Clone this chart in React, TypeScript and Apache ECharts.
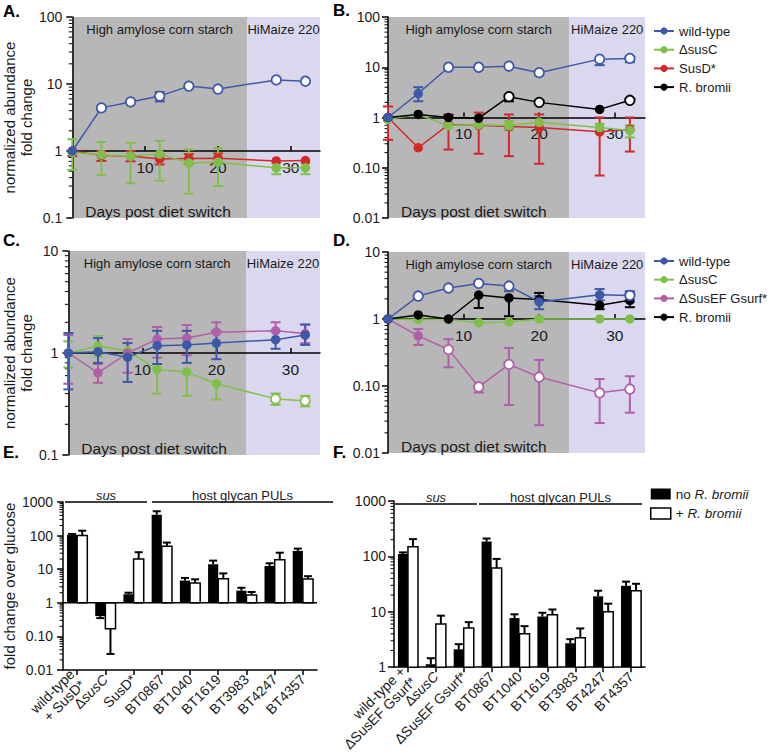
import React, { useEffect, useRef } from 'react';
import * as echarts from 'echarts';

const FONT = '"Liberation Sans", Arial, Helvetica, sans-serif';
const TXT = '#1a1a1a';
const C_BLUE = '#3b59a8';
const C_GREEN = '#80c04a';
const C_RED = '#d4282b';
const C_MAG = '#b15fa9';
const C_BLACK = '#000000';
const PHASE_COLORS = ['#b7b7b7', '#d9d8ee'];

// ---------- shared time axis ----------
const DAYS = [0, 4, 8, 12, 16, 20, 28, 32];
const DAY_TICKS = [10, 20, 30];
const PHASE_START = [0, 24];
const PHASE_END = [24, 34];
const PHASE_LABELS = ['High amylose corn starch', 'HiMaize 220'];
const X_LABEL = 'Days post diet switch';

// ---------- Panel A ----------
const A_WT = [1, 4.4, 5.4, 6.6, 9.3, 8.4, 11.5, 11];
const A_WT_OPEN = [0, 1, 1, 1, 1, 1, 1, 1];
const A_WT_LO = [null, null, null, 5.5, null, null, null, null];
const A_WT_HI = [null, null, null, 7.6, null, null, null, null];
const A_SUSC = [0.95, 0.88, 0.84, 0.9, 0.66, 0.68, 0.56, 0.56];
const A_SUSC_LO = [0.52, 0.44, 0.33, 0.36, 0.23, 0.3, 0.45, 0.45];
const A_SUSC_HI = [1.5, 1.36, 1.32, 1.42, 1.05, 1.1, 0.66, 0.66];
const A_SUSD = [1, 0.86, 0.84, 0.76, 0.77, 0.78, 0.71, 0.72];
const A_SUSD_LO = [0.84, 0.71, 0.7, 0.63, 0.64, 0.66, null, null];
const A_SUSD_HI = [1.0, 1.0, 1.0, 0.86, 0.9, 0.92, null, null];

// ---------- Panel B ----------
const B_WT = [1, 3.0, 10, 10, 10.5, 7.8, 14.5, 15];
const B_WT_OPEN = [0, 0, 1, 1, 1, 1, 1, 1];
const B_WT_LO = [0.87, 2.1, null, null, null, null, 11, 12.6];
const B_WT_HI = [null, 4.0, null, null, null, null, null, null];
const B_SUSC = [0.92, 1.15, 0.69, 0.72, 0.69, 0.8, 0.63, 0.55];
const B_SUSC_LO = [null, null, null, null, 0.56, null, 0.5, 0.4];
const B_SUSC_HI = [null, null, null, null, 0.85, null, 0.75, 0.7];
const B_SUSD = [1, 0.25, 0.72, 0.7, 0.66, 0.63, 0.52, 0.58];
const B_SUSD_LO = [0.36, null, 0.23, 0.19, 0.17, 0.12, 0.07, 0.21];
const B_SUSD_HI = [1.66, null, 1.15, 1.25, 1.15, 1.15, 1.0, 1.0];
const B_RB = [1, 1.15, 1.0, 0.97, 2.6, 2.0, 1.45, 2.2];
const B_RB_OPEN = [0, 0, 0, 0, 1, 1, 0, 1];
const B_RB_LO = [null, null, null, null, 2.1, null, null, null];
const B_RB_HI = [null, null, 1.1, null, null, null, null, null];

// ---------- Panel C ----------
const C_WT = [1, 1.03, 0.91, 1.18, 1.2, 1.25, 1.35, 1.5];
const C_WT_LO = [0.44, 0.8, 0.52, 0.78, 0.8, 0.87, 1.1, 1.2];
const C_WT_HI = [1.57, 1.4, 1.25, 1.65, 1.65, 1.65, 1.65, 1.9];
const C_SUSC = [1, 1.17, 1.05, 0.69, 0.65, 0.5, 0.355, 0.34];
const C_SUSC_OPEN = [0, 0, 0, 0, 0, 0, 1, 1];
const C_SUSC_LO = [0.72, 0.92, null, 0.4, 0.38, 0.35, 0.31, 0.3];
const C_SUSC_HI = [1.3, 1.47, null, null, null, null, 0.4, 0.38];
const C_SUSEF = [1, 0.64, 1.0, 1.37, 1.4, 1.6, 1.65, 1.55];
const C_SUSEF_LO = [0.5, 0.51, 0.64, 0.9, 0.95, 1.25, 1.35, 1.25];
const C_SUSEF_HI = [1.5, 0.78, 1.37, 1.8, 1.88, 2.0, 2.0, 1.9];

// ---------- Panel D ----------
const D_WT = [1, 2.2, 2.9, 3.4, 3.1, 1.8, 2.3, 2.25];
const D_WT_OPEN = [0, 1, 1, 1, 1, 0, 0, 1];
const D_WT_LO = [null, null, null, null, 2.6, 1.4, 1.9, 1.8];
const D_WT_HI = [null, null, null, null, null, 2.2, 2.8, 2.6];
const D_SUSC = [1, 0.98, 0.98, 0.88, 0.9, 1.0, 1.0, 1.0];
const D_SUSEF = [1, 0.56, 0.35, 0.097, 0.21, 0.136, 0.079, 0.09];
const D_SUSEF_OPEN = [0, 0, 1, 1, 1, 1, 1, 1];
const D_SUSEF_LO = [null, 0.41, 0.19, 0.08, 0.052, 0.026, 0.028, 0.04];
const D_SUSEF_HI = [null, 0.71, 0.5, null, 0.37, 0.245, 0.127, 0.14];
const D_RB = [1, 1.15, 1.0, 2.28, 2.06, 1.95, 1.6, 1.9];
const D_RB_LO = [null, null, null, 1.46, 1.1, null, 1.4, 1.5];
const D_RB_HI = [null, null, null, null, null, 2.45, null, null];

// ---------- Panel E ----------
const E_CATS = ['wild-type\n+ SusD*', 'ΔsusC', 'SusD*', 'BT0867', 'BT1040', 'BT1619', 'BT3983', 'BT4247', 'BT4357'];
const E_NO = [105, 0.4, 1.8, 420, 4.6, 14, 2.3, 12.5, 35];
const E_NO_ERR = [112, 0.35, 2.0, 530, 5.5, 18, 2.8, 15, 41];
const E_PLUS = [100, 0.17, 20, 48, 3.9, 5.2, 1.7, 19, 5.1];
const E_PLUS_ERR = [140, 0.03, 32, 62, 5.0, 7.5, 2.1, 31, 6.2];

// ---------- Panel F ----------
const F_CATS = ['wild-type +\nΔSusEF Gsurf*', 'ΔsusC', 'ΔSusEF Gsurf*', 'BT0867', 'BT1040', 'BT1619', 'BT3983', 'BT4247', 'BT4357'];
const F_NO = [110, 1.13, 2.1, 185, 7.7, 8.2, 2.7, 19, 29.5];
const F_NO_ERR = [118, 1.45, 2.6, 210, 9.0, 9.6, 3.2, 24, 35];
const F_PLUS = [150, 6.0, 5.1, 62, 4.0, 8.8, 3.4, 10, 24];
const F_PLUS_ERR = [205, 8.5, 6.5, 90, 5.5, 11, 5.0, 14, 32];

const NO_RB = 'no R. bromii';
const PLUS_RB = '+ R. bromii';

type LineDef = { name: string; color: string; values: number[]; open?: number[]; lo?: (number | null)[]; hi?: (number | null)[] };

const LINES_A: LineDef[] = [
  { name: 'SusD*', color: C_RED, values: A_SUSD, lo: A_SUSD_LO, hi: A_SUSD_HI },
  { name: 'ΔsusC', color: C_GREEN, values: A_SUSC, lo: A_SUSC_LO, hi: A_SUSC_HI },
  { name: 'wild-type', color: C_BLUE, values: A_WT, open: A_WT_OPEN, lo: A_WT_LO, hi: A_WT_HI },
];
const LINES_B: LineDef[] = [
  { name: 'SusD*', color: C_RED, values: B_SUSD, lo: B_SUSD_LO, hi: B_SUSD_HI },
  { name: 'ΔsusC', color: C_GREEN, values: B_SUSC, lo: B_SUSC_LO, hi: B_SUSC_HI },
  { name: 'R. bromii', color: C_BLACK, values: B_RB, open: B_RB_OPEN, lo: B_RB_LO, hi: B_RB_HI },
  { name: 'wild-type', color: C_BLUE, values: B_WT, open: B_WT_OPEN, lo: B_WT_LO, hi: B_WT_HI },
];
const LINES_C: LineDef[] = [
  { name: 'ΔsusC', color: C_GREEN, values: C_SUSC, open: C_SUSC_OPEN, lo: C_SUSC_LO, hi: C_SUSC_HI },
  { name: 'ΔSusEF Gsurf*', color: C_MAG, values: C_SUSEF, lo: C_SUSEF_LO, hi: C_SUSEF_HI },
  { name: 'wild-type', color: C_BLUE, values: C_WT, lo: C_WT_LO, hi: C_WT_HI },
];
const LINES_D: LineDef[] = [
  { name: 'ΔSusEF Gsurf*', color: C_MAG, values: D_SUSEF, open: D_SUSEF_OPEN, lo: D_SUSEF_LO, hi: D_SUSEF_HI },
  { name: 'ΔsusC', color: C_GREEN, values: D_SUSC },
  { name: 'R. bromii', color: C_BLACK, values: D_RB, lo: D_RB_LO, hi: D_RB_HI },
  { name: 'wild-type', color: C_BLUE, values: D_WT, open: D_WT_OPEN, lo: D_WT_LO, hi: D_WT_HI },
];

const fmtOne = (v: number) => {
  const e = Math.round(Math.log10(v));
  return e >= 0 ? String(Math.pow(10, e)) : e === -1 ? '0.1' : '0.01';
};
const fmtTwo = (v: number) => {
  const e = Math.round(Math.log10(v));
  return e >= 0 ? String(Math.pow(10, e)) : e === -1 ? '0.10' : '0.01';
};

const TIME_PANELS = [
  { label: 'A.', lx: 3, ly: 11, left: 63, top: 17, width: 257, height: 201, yMin: 0.1, yMax: 100, fmt: fmtOne, margin: 10, lines: LINES_A, yName: 'normalized abundance\nfold change', nameGap: 27 },
  { label: 'B.', lx: 333, ly: 10, left: 388, top: 17, width: 257, height: 201, yMin: 0.01, yMax: 100, fmt: fmtTwo, margin: 8, lines: LINES_B, yName: '', nameGap: 0 },
  { label: 'C.', lx: 3, ly: 240, left: 63, top: 251, width: 257, height: 204, yMin: 0.1, yMax: 10, fmt: fmtOne, margin: 10, lines: LINES_C, yName: 'normalized abundance\nfold change', nameGap: 24 },
  { label: 'D.', lx: 333, ly: 240, left: 388, top: 252, width: 257, height: 201, yMin: 0.01, yMax: 10, fmt: fmtTwo, margin: 8, lines: LINES_D, yName: '', nameGap: 0 },
];

const BAR_PANELS = [
  { label: 'E.', lx: 3, ly: 452, left: 63, top: 502, width: 254, height: 168, yMin: 0.01, yMax: 1000, fmt: fmtTwo, margin: 10, cats: E_CATS, no: E_NO, noErr: E_NO_ERR, plus: E_PLUS, plusErr: E_PLUS_ERR, yName: 'fold change over glucose', nameGap: 36, refLine: true },
  { label: 'F.', lx: 333, ly: 452, left: 394, top: 501, width: 251, height: 170, yMin: 1, yMax: 1000, fmt: fmtTwo, margin: 8, cats: F_CATS, no: F_NO, noErr: F_NO_ERR, plus: F_PLUS, plusErr: F_PLUS_ERR, yName: '', nameGap: 0, refLine: false },
];

const minorTicks = (min: number, max: number) => {
  const out: number[] = [];
  for (let e = Math.round(Math.log10(min)); e < Math.round(Math.log10(max)); e++) {
    for (let k = 2; k <= 9; k++) out.push(k * Math.pow(10, e));
  }
  return out;
};

const errRender = (color: string, cap: number, lw: number) => (params: any, api: any) => {
  const x = api.value(0);
  const lo = api.coord([x, api.value(1)]);
  const hi = api.coord([x, api.value(2)]);
  const h = cap / 2;
  const style = { stroke: color, lineWidth: lw };
  const children: any[] = [{ type: 'line', shape: { x1: lo[0], y1: lo[1], x2: hi[0], y2: hi[1] }, style }];
  if (api.value(3) === 1) children.push({ type: 'line', shape: { x1: lo[0] - h, y1: lo[1], x2: lo[0] + h, y2: lo[1] }, style });
  if (api.value(4) === 1) children.push({ type: 'line', shape: { x1: hi[0] - h, y1: hi[1], x2: hi[0] + h, y2: hi[1] }, style });
  return { type: 'group', children };
};

const minorRender = (params: any, api: any) => {
  const y = api.coord([api.value(0), api.value(1)])[1];
  const x = params.coordSys.x;
  return { type: 'line', shape: { x1: x - 3.5, y1: y, x2: x, y2: y }, style: { stroke: '#000', lineWidth: 1 } };
};

const barRender = (side: number, filled: boolean) => (params: any, api: any) => {
  const idx = api.value(0);
  const band = api.size([1, 0])[0];
  const w = band * 0.36;
  const base = api.coord([idx, 1]);
  const top = api.coord([idx, api.value(1)]);
  const e = api.coord([idx, api.value(2)]);
  const x0 = side < 0 ? base[0] - w : base[0];
  const cx = x0 + w / 2;
  const es = { stroke: '#000', lineWidth: 2 };
  return {
    type: 'group',
    children: [
      { type: 'line', shape: { x1: cx, y1: top[1], x2: cx, y2: e[1] }, style: es },
      { type: 'line', shape: { x1: cx - 4, y1: e[1], x2: cx + 4, y2: e[1] }, style: es },
      {
        type: 'rect',
        shape: { x: x0, y: Math.min(base[1], top[1]), width: w, height: Math.abs(base[1] - top[1]) },
        style: filled ? { fill: '#000' } : { fill: '#fff', stroke: '#000', lineWidth: 1.5 },
      },
    ],
  };
};

function yAxisOf(i: number, p: any) {
  return {
    type: 'log', logBase: 10, gridIndex: i, min: p.yMin, max: p.yMax,
    axisLine: { show: true, lineStyle: { color: '#000', width: 1.5 } },
    axisTick: { show: true, length: 6, lineStyle: { color: '#000', width: 1.5 } },
    axisLabel: { formatter: p.fmt, fontSize: 14, fontFamily: FONT, color: TXT, margin: p.margin },
    splitLine: { show: false },
    minorTick: { show: false },
    name: p.yName, nameLocation: 'middle', nameGap: p.nameGap, nameRotate: 90,
    nameTextStyle: { fontSize: 15, fontFamily: FONT, color: TXT, lineHeight: 17 },
  };
}

function buildOption() {
  const grid: any[] = [];
  const xAxis: any[] = [];
  const yAxis: any[] = [];
  const series: any[] = [];
  const graphic: any[] = [];

  TIME_PANELS.forEach((p, i) => {
    grid.push({ left: p.left, top: p.top, width: p.width, height: p.height });
    const frac = (0 - Math.log10(p.yMin)) / (Math.log10(p.yMax) - Math.log10(p.yMin));
    xAxis.push({
      type: 'value', gridIndex: i, min: PHASE_START[0], max: PHASE_END[PHASE_END.length - 1],
      position: 'bottom', offset: -p.height * frac,
      axisLine: { show: true, onZero: false, lineStyle: { color: '#000', width: 1.5 } },
      axisTick: { show: true, inside: true, length: 5, customValues: DAY_TICKS, lineStyle: { color: '#000', width: 1.5 } },
      axisLabel: { customValues: DAY_TICKS, formatter: (v: number) => (DAY_TICKS.indexOf(v) >= 0 ? String(v) : ''), fontSize: 15.5, fontFamily: FONT, color: TXT, margin: 8 },
      splitLine: { show: false },
    });
    yAxis.push(yAxisOf(i, p));

    series.push({
      type: 'custom', xAxisIndex: i, yAxisIndex: i, z: -1, silent: true, clip: false,
      data: PHASE_START.map((s, k) => [s, PHASE_END[k], 1]),
      encode: { x: [0, 1], y: 2 },
      renderItem: (params: any, api: any) => {
        const k = params.dataIndex;
        const cs = params.coordSys;
        const x0 = api.coord([api.value(0), 1])[0];
        const x1 = api.coord([api.value(1), 1])[0];
        const children: any[] = [
          { type: 'rect', shape: { x: x0, y: cs.y, width: x1 - x0, height: cs.height }, style: { fill: PHASE_COLORS[k] } },
          { type: 'text', x: (x0 + x1) / 2, y: cs.y + 12, style: { text: PHASE_LABELS[k], fill: TXT, fontSize: 13, fontFamily: FONT, align: 'center', verticalAlign: 'middle' } },
        ];
        if (k === 0) {
          children.push({ type: 'text', x: x0 + 13, y: cs.y + cs.height - 7, style: { text: X_LABEL, fill: TXT, fontSize: 15.5, fontFamily: FONT, align: 'left', verticalAlign: 'middle' } });
        }
        return { type: 'group', children };
      },
    });

    series.push({
      type: 'custom', xAxisIndex: i, yAxisIndex: i, silent: true, clip: false,
      data: minorTicks(p.yMin, p.yMax).map((v) => [0, v]),
      encode: { x: 0, y: 1 },
      renderItem: minorRender,
    });

    p.lines.forEach((ln) => {
      const errData = DAYS.map((d, j) => {
        const lo = ln.lo ? ln.lo[j] : null;
        const hi = ln.hi ? ln.hi[j] : null;
        return [d, lo != null ? lo : ln.values[j], hi != null ? hi : ln.values[j], lo != null ? 1 : 0, hi != null ? 1 : 0];
      }).filter((r) => r[3] === 1 || r[4] === 1);
      series.push({
        type: 'custom', xAxisIndex: i, yAxisIndex: i, silent: true, clip: false,
        data: errData, encode: { x: 0, y: [1, 2] },
        renderItem: errRender(ln.color, 10, 2),
      });
      series.push({
        name: ln.name, type: 'line', xAxisIndex: i, yAxisIndex: i, clip: false,
        symbol: 'circle', symbolSize: 9.5,
        lineStyle: { color: ln.color, width: 1.5 },
        itemStyle: { color: ln.color },
        data: DAYS.map((d, j) => ({
          value: [d, ln.values[j]],
          itemStyle: ln.open && ln.open[j] ? { color: '#ffffff', borderColor: ln.color, borderWidth: 1.8 } : { color: ln.color },
        })),
      });
    });

    graphic.push({ type: 'text', x: p.lx, y: p.ly, style: { text: p.label, fill: '#000', fontSize: 17, fontWeight: 'bold', fontFamily: FONT, verticalAlign: 'middle' } });
  });

  BAR_PANELS.forEach((p, bi) => {
    const i = TIME_PANELS.length + bi;
    grid.push({ left: p.left, top: p.top, width: p.width, height: p.height });
    xAxis.push({
      type: 'category', gridIndex: i, data: p.cats,
      axisLine: { show: true, lineStyle: { color: '#000', width: 1.5 } },
      axisTick: { show: true, alignWithLabel: true, length: 5, lineStyle: { color: '#000', width: 1.5 } },
      axisLabel: {
        interval: 0, rotate: 45, fontSize: 14, fontFamily: FONT, color: TXT, margin: 7, lineHeight: 15,
        formatter: (v: string) => (v === 'ΔsusC' ? 'Δ{i|susC}' : v),
        rich: { i: { fontStyle: 'italic', fontSize: 14, fontFamily: FONT, color: TXT } },
      },
      splitLine: { show: false },
    });
    yAxis.push(yAxisOf(i, p));

    series.push({
      type: 'custom', xAxisIndex: i, yAxisIndex: i, silent: true, clip: false,
      data: minorTicks(p.yMin, p.yMax).map((v) => [0, v]),
      encode: { x: 0, y: 1 },
      renderItem: minorRender,
    });
    series.push({
      name: NO_RB, type: 'custom', xAxisIndex: i, yAxisIndex: i, clip: false,
      itemStyle: { color: '#000' },
      data: p.no.map((v, k) => [k, v, p.noErr[k]]),
      encode: { x: 0, y: [1, 2] },
      renderItem: barRender(-1, true),
    });
    series.push({
      name: PLUS_RB, type: 'custom', xAxisIndex: i, yAxisIndex: i, clip: false,
      itemStyle: { color: '#fff', borderColor: '#000', borderWidth: 1.5 },
      data: p.plus.map((v, k) => [k, v, p.plusErr[k]]),
      encode: { x: 0, y: [1, 2] },
      renderItem: barRender(1, false),
    });
    if (p.refLine) {
      series.push({
        type: 'custom', xAxisIndex: i, yAxisIndex: i, silent: true, clip: false,
        data: [[0, 1]], encode: { x: 0, y: 1 },
        renderItem: (params: any, api: any) => {
          const cs = params.coordSys;
          const y = api.coord([0, api.value(1)])[1];
          return { type: 'line', shape: { x1: cs.x, y1: y, x2: cs.x + cs.width, y2: y }, style: { stroke: '#000', lineWidth: 1.5 } };
        },
      });
    }
    graphic.push({ type: 'text', x: p.lx, y: p.ly, style: { text: p.label, fill: '#000', fontSize: 17, fontWeight: 'bold', fontFamily: FONT, verticalAlign: 'middle' } });
  });

  // group annotations above E and F
  const ann = (x1: number, x2: number, y: number, text: string, italic: boolean) => [
    { type: 'line', shape: { x1, y1: y, x2, y2: y }, style: { stroke: '#000', lineWidth: 1.5 } },
    { type: 'text', x: (x1 + x2) / 2, y: y - 7, style: { text, fill: TXT, fontSize: 13, fontStyle: italic ? 'italic' : 'normal', fontFamily: FONT, align: 'center', verticalAlign: 'middle' } },
  ];
  graphic.push(...ann(65, 147, 502, 'sus', true));
  graphic.push(...ann(152, 333, 502, 'host glycan PULs', false));
  graphic.push(...ann(395, 477, 504, 'sus', true));
  graphic.push(...ann(479, 642, 504, 'host glycan PULs', false));

  const legendText = { fontSize: 13, fontFamily: FONT, color: TXT, lineHeight: 16 };
  const legend = [
    { data: ['wild-type', 'ΔsusC', 'SusD*', 'R. bromii'], left: 653, top: 23, orient: 'vertical', padding: 0, itemWidth: 20, itemHeight: 9, itemGap: 2.7, selectedMode: false, textStyle: legendText },
    { data: ['wild-type', 'ΔsusC', 'ΔSusEF Gsurf*', 'R. bromii'], left: 653, top: 253, orient: 'vertical', padding: 0, itemWidth: 20, itemHeight: 9, itemGap: 2.7, selectedMode: false, textStyle: legendText },
    {
      data: [
        { name: NO_RB, icon: 'rect', itemStyle: { color: '#000', borderWidth: 0 } },
        { name: PLUS_RB, icon: 'rect', itemStyle: { color: '#fff', borderColor: '#000', borderWidth: 1.5 } },
      ],
      left: 650, top: 486, orient: 'vertical', padding: 0, itemWidth: 20, itemHeight: 11, itemGap: 3.5, selectedMode: false,
      formatter: (name: string) => (name === NO_RB ? 'no {i|R. bromii}' : '+ {i|R. bromii}'),
      textStyle: { ...legendText, fontSize: 13.5, rich: { i: { fontStyle: 'italic', fontSize: 13.5, fontFamily: FONT, color: TXT } } },
    },
  ];

  return {
    animation: false,
    backgroundColor: '#ffffff',
    textStyle: { fontFamily: FONT },
    grid, xAxis, yAxis, series, legend, graphic,
  };
}

export default function App() {
  const ref = useRef<HTMLDivElement>(null);
  useEffect(() => {
    const chart = echarts.init(ref.current as HTMLDivElement, undefined, { renderer: 'svg' });
    chart.setOption(buildOption() as any);
    return () => chart.dispose();
  }, []);
  return <div ref={ref} style={{ position: 'absolute', left: 0, top: 0, width: 771, height: 754, background: '#fff' }} />;
}
